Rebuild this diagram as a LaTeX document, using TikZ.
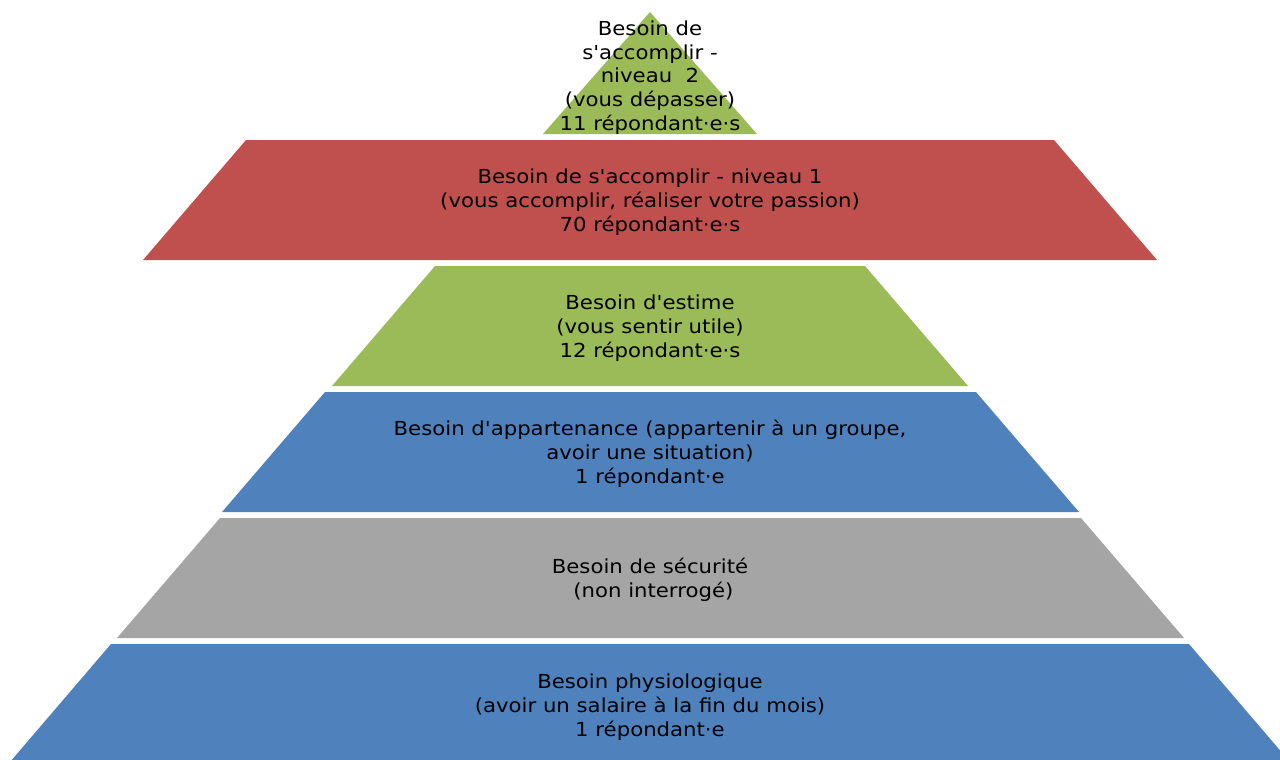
\documentclass[tikz,border=0pt]{standalone}
\usepackage{fontspec}
\setmainfont[FakeStretch=1.1,Ligatures=TeXOff]{DejaVu Sans}
\definecolor{pyrred}{HTML}{C0504D}
\definecolor{pyrgreen}{HTML}{9BBB59}
\definecolor{pyrblue}{HTML}{4F81BD}
\definecolor{pyrgray}{HTML}{A5A5A5}
\tikzset{
  lvltext/.style={align=center, text=black, inner sep=0pt,
    font=\fontsize{19.3}{23.8}\selectfont},
}
\begin{document}
\begin{tikzpicture}[x=1pt,y=-1pt]
\useasboundingbox (0,0) rectangle (1280,760);
% levels
\fill[pyrgreen] (650,12) -- (757,134) -- (543,134) -- cycle;
\fill[pyrred] (246,140) -- (1054,140) -- (1157,260) -- (143,260) -- cycle;
\fill[pyrgreen] (435,266) -- (865,266) -- (968,386) -- (332,386) -- cycle;
\fill[pyrblue] (325,392) -- (976,392) -- (1079,512) -- (222,512) -- cycle;
\fill[pyrgray] (220,518) -- (1081,518) -- (1184,638) -- (117,638) -- cycle;
\fill[pyrblue] (111,644) -- (1189,644) -- (1290,762) -- (10,762) -- cycle;
% texts
\node[lvltext] (t6) at (650,77.5) {Besoin de\\s'accomplir -\\niveau\ \ 2\\(vous dépasser)\\11 répondant·e·s};
\node[lvltext] (t5) at (650,202) {Besoin de s'accomplir - niveau 1\\(vous accomplir, réaliser votre passion)\\70 répondant·e·s};
\node[lvltext] (t4) at (650,328) {Besoin d'estime\\(vous sentir utile)\\12 répondant·e·s};
\node[lvltext] (t3) at (650,454) {Besoin d'appartenance (appartenir à un groupe,\\avoir une situation)\\1 répondant·e};
\node[lvltext] (t2) at (650,580) {Besoin de sécurité\\\ (non interrogé)};
\node[lvltext] (t1) at (650,707) {Besoin physiologique\\(avoir un salaire à la fin du mois)\\1 répondant·e};
\end{tikzpicture}
\end{document}
